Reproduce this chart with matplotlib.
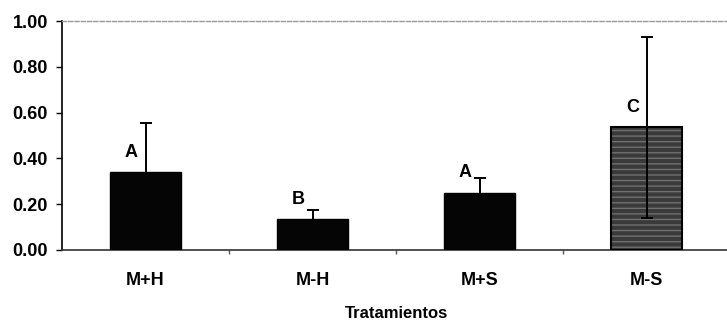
import matplotlib
matplotlib.use('Agg')
import matplotlib.pyplot as plt
import numpy as np

# treatment means, error bars and significance letters
tratamientos = ['M+H', 'M-H', 'M+S', 'M-S']
medias = [0.34, 0.135, 0.25, 0.535]
errores = [0.215, 0.04, 0.065, 0.395]
letras = ['A', 'B', 'A', 'C']
y_ticks = [0.0, 0.2, 0.4, 0.6, 0.8, 1.0]

plt.rcParams['font.family'] = ['Liberation Sans', 'DejaVu Sans']

fig = plt.figure(figsize=(7.27, 3.2), dpi=100)
ax = fig.add_axes([62 / 727, 70 / 320, 668 / 727, 229 / 320])

x = np.arange(len(tratamientos))
ancho = 0.42

# solid black bars for the first three, textured grey for M-S
colores = ['#050505', '#050505', '#050505', '#3a3a3a']
for i in range(len(x)):
    if i == 3:
        ax.bar(x[i], medias[i], width=ancho, color=colores[i], hatch='---',
               edgecolor='#707070', linewidth=0, zorder=2)
        ax.bar(x[i], medias[i], width=ancho, fill=False,
               edgecolor='black', linewidth=1.5, zorder=3)
        z = 4
    else:
        ax.bar(x[i], medias[i], width=ancho, color=colores[i],
               edgecolor='black', linewidth=1.0, zorder=3)
        z = 1.5
    # lower half of the bar hides the error whisker on solid bars
    ax.errorbar(x[i], medias[i], yerr=errores[i], fmt='none', ecolor='black',
                elinewidth=1.4, capsize=4.5, capthick=1.4, zorder=z)

for i in range(len(x)):
    ax.text(x[i] - 0.085, medias[i] + 0.05, letras[i], ha='center', va='bottom',
            fontsize=13, fontweight='bold')

ax.set_xlim(-0.5, 3.5)
ax.set_ylim(0, 1.0)
ax.set_yticks(y_ticks)
ax.set_yticklabels([f'{v:.2f}' for v in y_ticks], fontsize=13, fontweight='bold')
ax.tick_params(axis='y', length=4, width=1, pad=6)

ax.set_xticks(x)
ax.set_xticklabels(tratamientos, fontsize=13, fontweight='bold')
ax.tick_params(axis='x', which='major', length=0, pad=16)
ax.set_xticks(x[:-1] + 0.5, minor=True)
ax.tick_params(axis='x', which='minor', length=3, width=1, color='#555555')

ax.set_xlabel('Tratamientos', fontsize=12, fontweight='bold', labelpad=12)

ax.spines['left'].set_linewidth(1.2)
ax.spines['bottom'].set_linewidth(1.2)
ax.spines['bottom'].set_color('#333333')
ax.spines['right'].set_visible(False)
ax.spines['top'].set_color('#999999')
ax.spines['top'].set_linestyle((0, (3, 1.5)))
ax.spines['top'].set_linewidth(1.0)

fig.savefig('out.png', dpi=100)
